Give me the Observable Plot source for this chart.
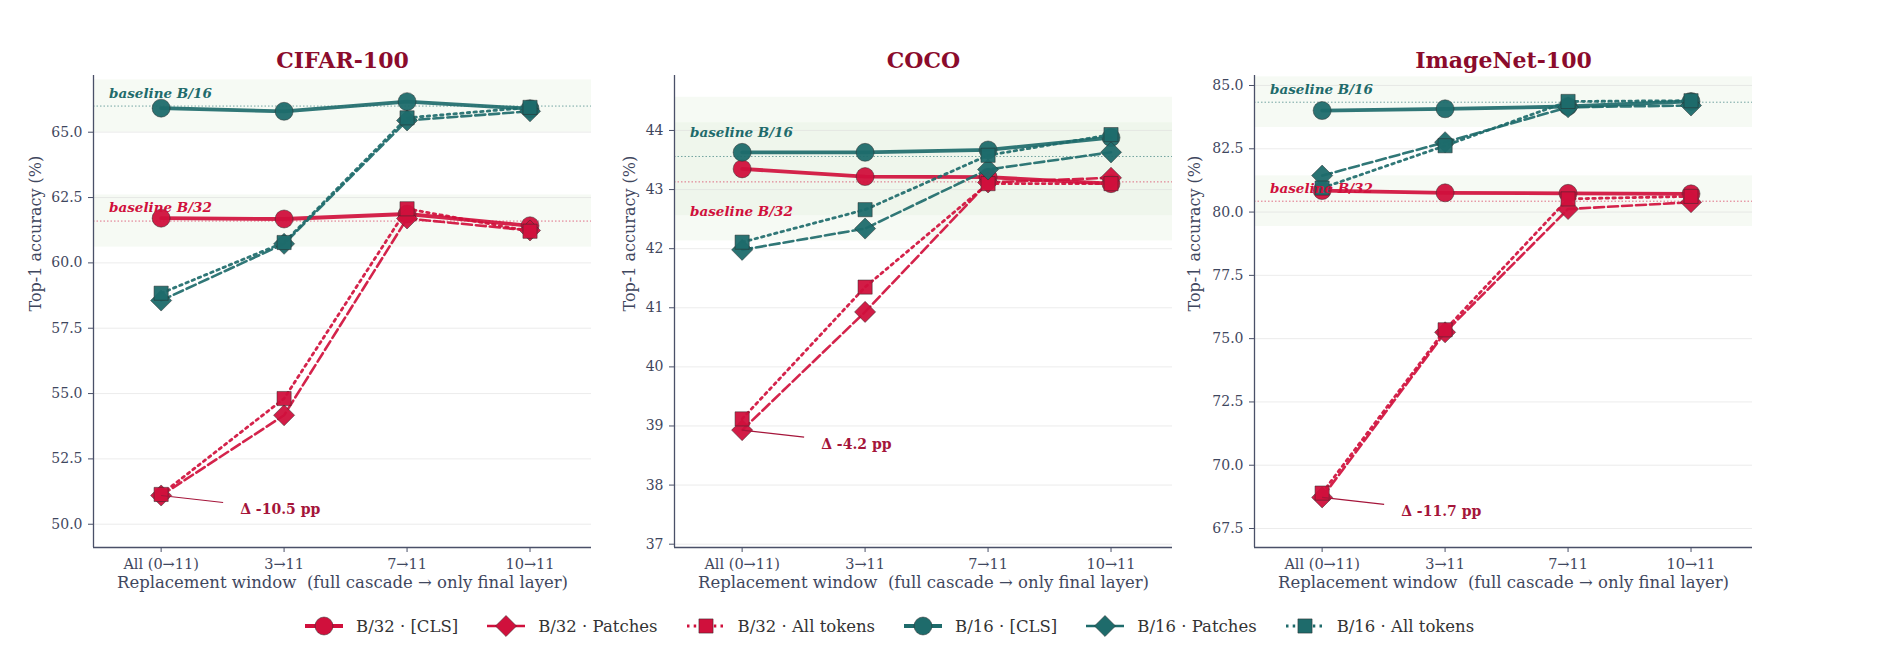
<!DOCTYPE html>
<html><head><meta charset="utf-8">
<script src="https://cdn.jsdelivr.net/npm/d3@7"></script>
<script src="https://cdn.jsdelivr.net/npm/@observablehq/plot@0.6"></script>
<style>
body{margin:0;background:#fff;font-family:"DejaVu Serif",serif;}
#root{position:relative;width:1897px;height:666px;overflow:hidden;background:#fff;}
.panel{position:absolute;top:0;}
#legend{position:absolute;top:614px;left:305px;display:flex;align-items:center;font-size:16.5px;color:#333;white-space:nowrap;}
#legend .item{display:flex;align-items:center;margin-right:29px;}
#legend svg{display:block;}
#legend span{margin-left:13px;}
</style></head><body><div id="root"></div>
<script>
// ---------- data ----------
const windows = ["All (0→11)", "3→11", "7→11", "10→11"];
const datasets = ["CIFAR-100", "COCO", "ImageNet-100"];
const seriesNames = ["B/32 · [CLS]", "B/32 · Patches", "B/32 · All tokens", "B/16 · [CLS]", "B/16 · Patches", "B/16 · All tokens"];
const baselineNames = ["baseline B/32", "baseline B/16"];

// CIFAR-100
const cifarB32Cls     = [61.71, 61.68, 61.87, 61.42];
const cifarB32Patches = [51.10, 54.17, 61.70, 61.24];
const cifarB32All     = [51.14, 54.81, 62.07, 61.21];
const cifarB16Cls     = [65.92, 65.80, 66.17, 65.90];
const cifarB16Patches = [58.56, 60.73, 65.45, 65.80];
const cifarB16All     = [58.84, 60.78, 65.55, 65.95];
const cifarBaselines  = [61.6, 66.0];

// COCO
const cocoB32Cls     = [43.35, 43.22, 43.21, 43.10];
const cocoB32Patches = [38.93, 40.93, 43.12, 43.20];
const cocoB32All     = [39.12, 41.35, 43.10, 43.10];
const cocoB16Cls     = [43.63, 43.63, 43.67, 43.88];
const cocoB16Patches = [41.98, 42.34, 43.34, 43.63];
const cocoB16All     = [42.11, 42.66, 43.58, 43.93];
const cocoBaselines  = [43.13, 43.56];

// ImageNet-100
const inB32Cls     = [80.85, 80.76, 80.74, 80.72];
const inB32Patches = [68.73, 75.25, 80.12, 80.39];
const inB32All     = [68.90, 75.35, 80.52, 80.62];
const inB16Cls     = [84.01, 84.08, 84.17, 84.37];
const inB16Patches = [81.44, 82.76, 84.14, 84.21];
const inB16All     = [80.95, 82.62, 84.37, 84.40];
const inBaselines  = [80.43, 84.34];

const cifarTicks = [50, 52.5, 55, 57.5, 60, 62.5, 65];
const cocoTicks  = [37, 38, 39, 40, 41, 42, 43, 44];
const inTicks    = [67.5, 70, 72.5, 75, 77.5, 80, 82.5, 85];

// ---------- style / layout ----------
const RED = "#d0103c", TEAL = "#1e6b6b";
const seriesColor = [RED, RED, RED, TEAL, TEAL, TEAL];
const seriesSymbol = [d3.symbolCircle, d3.symbolDiamond2, d3.symbolSquare, d3.symbolCircle, d3.symbolDiamond2, d3.symbolSquare];
const seriesR = [9, 9.5, 8, 9, 9.5, 8];
const seriesDash = [null, "10,4", "2.5,4.2", null, "10,4", "2.5,4.2"];
const seriesWidth = [3.8, 2.6, 2.8, 3.8, 2.6, 2.8];

const panels = [
  {series: [cifarB32Cls, cifarB32Patches, cifarB32All, cifarB16Cls, cifarB16Patches, cifarB16All],
   baselines: cifarBaselines, ticks: cifarTicks, fmt: d3.format(".1f"), domain: [49.11, 67.17],
   labelDy: [-13, -12.5], ylabelDx: -58},
  {series: [cocoB32Cls, cocoB32Patches, cocoB32All, cocoB16Cls, cocoB16Patches, cocoB16All],
   baselines: cocoBaselines, ticks: cocoTicks, fmt: d3.format("d"), domain: [36.944, 44.93],
   labelDy: [30, -24], ylabelDx: -45},
  {series: [inB32Cls, inB32Patches, inB32All, inB16Cls, inB16Patches, inB16All],
   baselines: inBaselines, ticks: inTicks, fmt: d3.format(".1f"), domain: [66.75, 85.395],
   labelDy: [-13, -12.7], ylabelDx: -60}
];

const ML = 93, MT = 75, PW = 498, PH = 472, MR = 12, H = 620;
const XDOM = [-0.55, 3.5];
const PITCH = 580.5;
const INK = "#3f475e";

const root = document.getElementById("root");

panels.forEach((cfg, p) => {
  const marks = [];
  const bl = cfg.baselines.map((b, j) => ({b, j}));
  const blColor = j => j === 0 ? RED : TEAL;
  marks.push(Plot.rect(bl, {y1: d => d.b - 1, y2: d => d.b + 1, fill: "#dcebd6", fillOpacity: 0.26}));
  marks.push(Plot.gridY(cfg.ticks, {stroke: "#d9d9d9", strokeOpacity: 0.5, strokeWidth: 1}));
  marks.push(Plot.ruleY(bl, {y: "b", stroke: d => blColor(d.j), strokeOpacity: 0.6, strokeWidth: 1, strokeDasharray: "1.5,2"}));
  cfg.series.forEach((vals, s) => {
    const rows = vals.map((v, k) => ({k, v}));
    marks.push(Plot.line(rows, {x: "k", y: "v", stroke: seriesColor[s], strokeWidth: seriesWidth[s],
      strokeDasharray: seriesDash[s], strokeOpacity: 0.92}));
    marks.push(Plot.dot(rows, {x: "k", y: "v", symbol: () => seriesSymbol[s], r: seriesR[s], fill: seriesColor[s],
      fillOpacity: 0.95, stroke: "#2a2a2a", strokeOpacity: 0.55, strokeWidth: 0.9}));
  });
  // baseline labels
  bl.forEach(d => {
    marks.push(Plot.text([d], {y: "b", frameAnchor: "left", dx: 15.5, dy: cfg.labelDy[d.j], text: () => baselineNames[d.j],
      textAnchor: "start", fill: blColor(d.j), fontSize: 13.5, fontWeight: "bold", fontStyle: "italic",
      ariaLabel: "baseline-label"}));
  });
  // delta annotation at the worst point (B/32 patches, full cascade)
  const worst = cfg.series[1][0];
  const delta = worst - cfg.baselines[0];
  const xppu = PW / (XDOM[1] - XDOM[0]);
  const yppu = PH / (cfg.domain[1] - cfg.domain[0]);
  marks.push(Plot.link([{v: worst}], {x1: () => 0, y1: "v", x2: () => 62 / xppu, y2: d => d.v - 7 / yppu,
    stroke: "#a5153a", strokeWidth: 1.1}));
  marks.push(Plot.text([{v: worst}], {x: () => 0, y: "v", dx: 79, dy: 14, textAnchor: "start",
    text: () => `Δ ${delta.toFixed(1)} pp`, fill: "#a5153a", fontSize: 14, fontWeight: "bold"}));
  // spines
  marks.push(Plot.ruleX([XDOM[0]], {stroke: "#4a5068", strokeWidth: 1.3}));
  marks.push(Plot.ruleY([cfg.domain[0]], {stroke: "#4a5068", strokeWidth: 1.3}));
  // axes
  marks.push(Plot.axisX([0, 1, 2, 3], {tickFormat: i => windows[i], tickSize: 5, tickPadding: 6, fontSize: 14.5, label: null, stroke: "#4a5068"}));
  marks.push(Plot.axisY(cfg.ticks, {tickFormat: cfg.fmt, tickSize: 5, tickPadding: 6, fontSize: 14, label: null, stroke: "#4a5068"}));
  // titles / labels
  marks.push(Plot.text([datasets[p]], {frameAnchor: "top", dy: -23.5, text: d => d, fontSize: 22, fontWeight: "bold", fill: "#8b0b2c"}));
  marks.push(Plot.text(["Replacement window  (full cascade → only final layer)"], {frameAnchor: "bottom", dy: 40, text: d => d, fontSize: 16.5, fill: INK}));
  marks.push(Plot.text(["Top-1 accuracy (%)"], {frameAnchor: "left", dx: cfg.ylabelDx, rotate: -90, text: d => d, fontSize: 16, fill: INK}));

  const chart = Plot.plot({
    width: ML + PW + MR, height: H,
    marginLeft: ML, marginRight: MR, marginTop: MT, marginBottom: H - MT - PH,
    x: {type: "linear", domain: XDOM, axis: null},
    y: {domain: cfg.domain, axis: null},
    style: {fontFamily: "DejaVu Serif", fontSize: "14px", color: INK, background: "transparent", overflow: "visible"},
    marks
  });
  const div = document.createElement("div");
  div.className = "panel";
  div.style.left = (PITCH * p) + "px";
  div.appendChild(chart);
  root.appendChild(div);

  // white translucent box behind each baseline label
  chart.querySelectorAll('g[aria-label="baseline-label"] text').forEach(t => {
    const bb = t.getBBox();
    const r = document.createElementNS("http://www.w3.org/2000/svg", "rect");
    r.setAttribute("x", bb.x - 2); r.setAttribute("y", bb.y);
    r.setAttribute("width", bb.width + 4); r.setAttribute("height", bb.height);
    r.setAttribute("fill", "white"); r.setAttribute("fill-opacity", 0.8);
    if (t.getAttribute("transform")) r.setAttribute("transform", t.getAttribute("transform"));
    t.parentNode.insertBefore(r, t);
  });
});

// ---------- legend ----------
const legend = d3.select(root).append("div").attr("id", "legend");
seriesNames.forEach((name, s) => {
  const item = legend.append("div").attr("class", "item");
  const svg = item.append("svg").attr("width", 38).attr("height", 24);
  svg.append("line").attr("x1", 0).attr("x2", 38).attr("y1", 12).attr("y2", 12)
    .attr("stroke", seriesColor[s]).attr("stroke-width", seriesWidth[s])
    .attr("stroke-dasharray", seriesDash[s]);
  svg.append("path").attr("transform", "translate(19,12)")
    .attr("d", d3.symbol(seriesSymbol[s], Math.PI * seriesR[s] * seriesR[s])())
    .attr("fill", seriesColor[s]).attr("stroke", "#2a2a2a").attr("stroke-opacity", 0.55).attr("stroke-width", 0.9);
  item.append("span").text(name);
});
</script></body></html>
